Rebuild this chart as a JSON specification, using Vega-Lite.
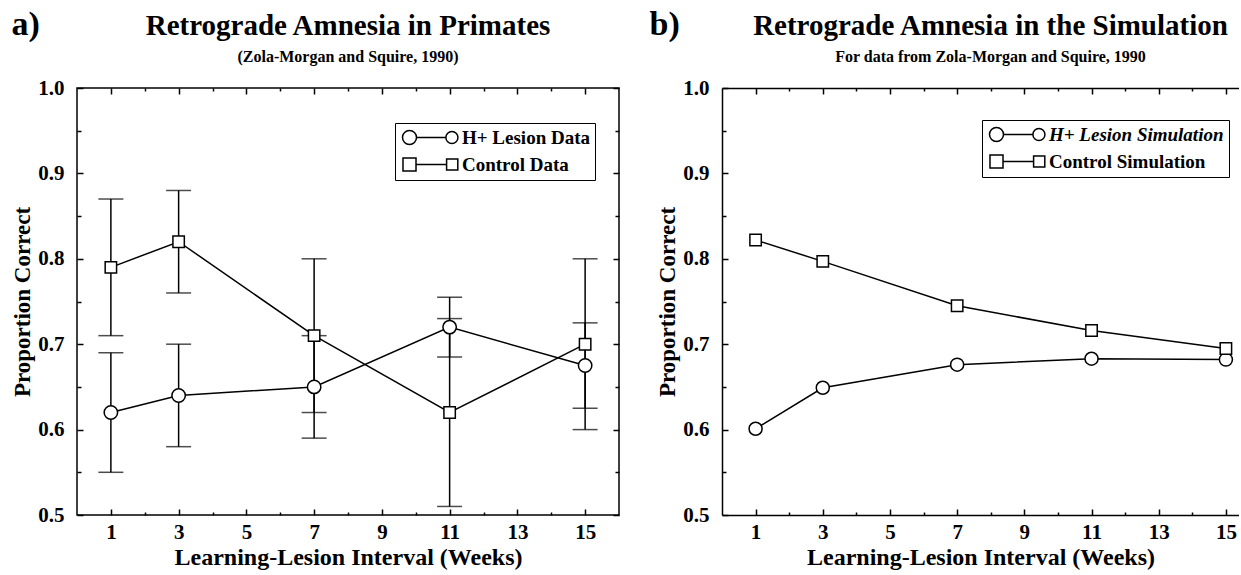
{
  "$schema": "https://vega.github.io/schema/vega-lite/v6.json",
  "background": "white",
  "padding": {"left": 10, "top": 6, "right": 0, "bottom": 0},
  "config": {
    "view": {"stroke": "black", "strokeWidth": 1.5},
    "font": "Liberation Serif",
    "title": {"font": "Liberation Serif", "fontSize": 29, "fontWeight": "bold", "color": "black", "subtitleFont": "Liberation Serif", "subtitleFontSize": 16, "subtitleFontWeight": "bold", "subtitleColor": "black", "subtitlePadding": 8, "offset": -58, "frame": "group", "anchor": "middle"},
    "axis": {"domain": false, "grid": false, "tickColor": "black", "tickWidth": 1.5, "labelFont": "Liberation Serif", "labelFontWeight": "bold", "labelFontSize": 21, "labelColor": "black", "titleFont": "Liberation Serif", "titleFontWeight": "bold", "titleFontSize": 24, "titleColor": "black"},
    "legend": {"orient": "none", "title": null, "symbolSize": 196, "symbolStrokeWidth": 1.5, "symbolStrokeColor": "black", "symbolOpacity": 1, "labelFont": "Liberation Serif", "labelFontSize": 19, "labelFontWeight": "bold", "labelColor": "black", "labelOffset": 43, "labelLimit": 0, "strokeColor": "black", "padding": 5, "rowPadding": 6},
    "concat": {"spacing": 28}
  },
  "resolve": {"scale": {"shape": "independent"}, "legend": {"shape": "independent"}},
  "datasets": {
    "a": [
      {"week": 1, "group": "H+ Lesion Data", "p": 0.62, "lo": 0.55, "hi": 0.69},
      {"week": 3, "group": "H+ Lesion Data", "p": 0.64, "lo": 0.58, "hi": 0.70},
      {"week": 7, "group": "H+ Lesion Data", "p": 0.65, "lo": 0.59, "hi": 0.71},
      {"week": 11, "group": "H+ Lesion Data", "p": 0.72, "lo": 0.685, "hi": 0.755},
      {"week": 15, "group": "H+ Lesion Data", "p": 0.675, "lo": 0.625, "hi": 0.725},
      {"week": 1, "group": "Control Data", "p": 0.79, "lo": 0.71, "hi": 0.87},
      {"week": 3, "group": "Control Data", "p": 0.82, "lo": 0.76, "hi": 0.88},
      {"week": 7, "group": "Control Data", "p": 0.71, "lo": 0.62, "hi": 0.80},
      {"week": 11, "group": "Control Data", "p": 0.62, "lo": 0.51, "hi": 0.73},
      {"week": 15, "group": "Control Data", "p": 0.70, "lo": 0.60, "hi": 0.80}
    ],
    "b": [
      {"week": 1, "group": "H+ Lesion Simulation", "p": 0.601},
      {"week": 3, "group": "H+ Lesion Simulation", "p": 0.649},
      {"week": 7, "group": "H+ Lesion Simulation", "p": 0.676},
      {"week": 11, "group": "H+ Lesion Simulation", "p": 0.683},
      {"week": 15, "group": "H+ Lesion Simulation", "p": 0.682},
      {"week": 1, "group": "Control Simulation", "p": 0.822},
      {"week": 3, "group": "Control Simulation", "p": 0.797},
      {"week": 7, "group": "Control Simulation", "p": 0.745},
      {"week": 11, "group": "Control Simulation", "p": 0.716},
      {"week": 15, "group": "Control Simulation", "p": 0.695}
    ]
  },
  "hconcat": [
    {
      "width": 542,
      "height": 427,
      "data": {"name": "a"},
      "title": {"text": "Retrograde Amnesia in Primates", "subtitle": "(Zola-Morgan and Squire, 1990)"},
      "resolve": {"axis": {"x": "independent", "y": "independent"}},
      "layer": [
        {
          "mark": {"type": "line", "color": "black", "strokeWidth": 1.5},
          "encoding": {
            "x": {"field": "week", "type": "quantitative", "scale": {"domain": [0, 16], "nice": false, "zero": false},
              "axis": {"orient": "bottom", "values": [1,2,3,4,5,6,7,8,9,10,11,12,13,14,15], "labelExpr": "datum.value % 2 == 1 ? datum.label : ''", "tickSize": {"condition": {"test": "datum.value % 2 == 1", "value": -6}, "value": -3}, "labelPadding": 12, "titlePadding": 3, "title": "Learning-Lesion Interval (Weeks)"}},
            "y": {"field": "p", "type": "quantitative", "scale": {"domain": [0.5, 1.0], "nice": false, "zero": false},
              "axis": {"orient": "left", "values": [0.5,0.55,0.6,0.65,0.7,0.75,0.8,0.85,0.9,0.95,1.0], "labelExpr": "abs(datum.value*10 - round(datum.value*10)) < 0.01 ? format(datum.value, '.1f') : ''", "tickSize": {"condition": {"test": "abs(datum.value*10 - round(datum.value*10)) < 0.01", "value": -6}, "value": -4}, "labelPadding": 19, "titlePadding": 3, "titleFontSize": 23, "title": "Proportion Correct"}},
            "detail": {"field": "group"}
          }
        },
        {
          "mark": {"type": "rule", "color": "black", "strokeWidth": 1.5},
          "encoding": {
            "x": {"field": "week", "type": "quantitative",
              "axis": {"orient": "top", "values": [1,2,3,4,5,6,7,8,9,10,11,12,13,14,15], "labels": false, "tickSize": {"condition": {"test": "datum.value % 2 == 1", "value": -6}, "value": -3}, "title": "a)", "titleX": -66, "titleY": -54, "titleAlign": "left", "titleAngle": 0, "titleBaseline": "alphabetic", "titleFontSize": 34}},
            "y": {"field": "lo", "type": "quantitative",
              "axis": {"orient": "right", "values": [0.5,0.55,0.6,0.65,0.7,0.75,0.8,0.85,0.9,0.95,1.0], "labels": false, "tickSize": {"condition": {"test": "abs(datum.value*10 - round(datum.value*10)) < 0.01", "value": -6}, "value": -4}, "title": null}},
            "y2": {"field": "hi"}
          }
        },
        {
          "mark": {"type": "tick", "orient": "horizontal", "color": "black", "size": 25, "thickness": 1.5},
          "encoding": {
            "x": {"field": "week", "type": "quantitative", "axis": null},
            "y": {"field": "lo", "type": "quantitative", "axis": null}
          }
        },
        {
          "mark": {"type": "tick", "orient": "horizontal", "color": "black", "size": 25, "thickness": 1.5},
          "encoding": {
            "x": {"field": "week", "type": "quantitative", "axis": null},
            "y": {"field": "hi", "type": "quantitative", "axis": null}
          }
        },
        {
          "transform": [{"filter": "datum.group === 'H+ Lesion Data'"}],
          "mark": {"type": "point", "shape": "circle", "size": 180, "filled": true, "fill": "white", "stroke": "black", "strokeWidth": 1.5, "opacity": 1},
          "encoding": {
            "x": {"field": "week", "type": "quantitative", "axis": null},
            "y": {"field": "p", "type": "quantitative", "axis": null}
          }
        },
        {
          "transform": [{"filter": "datum.group === 'Control Data'"}],
          "mark": {"type": "point", "shape": "square", "size": 130, "filled": true, "fill": "white", "stroke": "black", "strokeWidth": 1.5, "opacity": 1},
          "encoding": {
            "x": {"field": "week", "type": "quantitative", "axis": null},
            "y": {"field": "p", "type": "quantitative", "axis": null}
          }
        },
        {
          "transform": [{"filter": "false"}],
          "mark": {"type": "point", "filled": false, "color": "black", "strokeWidth": 1.5, "opacity": 1},
          "encoding": {
            "x": {"field": "week", "type": "quantitative", "axis": null},
            "y": {"field": "p", "type": "quantitative", "axis": null},
            "shape": {"field": "group", "type": "nominal",
              "scale": {"domain": ["H+ Lesion Data", "Control Data"], "range": ["M-1,0A1,1,0,1,1,1,0A1,1,0,1,1,-1,0ZM1,0L5.2,0M5.2,0A0.86,0.86,0,1,1,6.92,0A0.86,0.86,0,1,1,5.2,0Z", "M-0.93,-0.93L0.93,-0.93L0.93,0.93L-0.93,0.93ZM0.93,0L5.3,0M5.3,-0.8L6.9,-0.8L6.9,0.8L5.3,0.8Z"]},
              "legend": {"legendX": 318, "legendY": 35, "symbolStrokeColor": "black", "symbolStrokeWidth": 1.5}}
          }
        }
      ]
    },
    {
      "width": 517,
      "height": 427,
      "data": {"name": "b"},
      "view": {"stroke": null},
      "title": {"text": "Retrograde Amnesia in the Simulation", "subtitle": "For data from Zola-Morgan and Squire, 1990", "dx": 10},
      "resolve": {"axis": {"x": "independent", "y": "independent"}},
      "layer": [
        {
          "mark": {"type": "line", "color": "black", "strokeWidth": 1.5},
          "encoding": {
            "x": {"field": "week", "type": "quantitative", "scale": {"domain": [0, 15.39], "nice": false, "zero": false},
              "axis": {"orient": "bottom", "domain": true, "domainColor": "black", "domainWidth": 1.5, "values": [1,2,3,4,5,6,7,8,9,10,11,12,13,14,15], "labelExpr": "datum.value % 2 == 1 ? datum.label : ''", "tickSize": {"condition": {"test": "datum.value % 2 == 1", "value": -6}, "value": -3}, "labelPadding": 12, "titlePadding": 3, "title": "Learning-Lesion Interval (Weeks)"}},
            "y": {"field": "p", "type": "quantitative", "scale": {"domain": [0.5, 1.0], "nice": false, "zero": false},
              "axis": {"orient": "left", "domain": true, "domainColor": "black", "domainWidth": 1.5, "values": [0.5,0.55,0.6,0.65,0.7,0.75,0.8,0.85,0.9,0.95,1.0], "labelExpr": "abs(datum.value*10 - round(datum.value*10)) < 0.01 ? format(datum.value, '.1f') : ''", "tickSize": {"condition": {"test": "abs(datum.value*10 - round(datum.value*10)) < 0.01", "value": -6}, "value": -4}, "labelPadding": 19, "titlePadding": 3, "titleFontSize": 23, "title": "Proportion Correct"}},
            "detail": {"field": "group"}
          }
        },
        {
          "transform": [{"filter": "datum.group === 'H+ Lesion Simulation'"}],
          "mark": {"type": "point", "shape": "circle", "size": 170, "filled": true, "fill": "white", "stroke": "black", "strokeWidth": 1.5, "opacity": 1},
          "encoding": {
            "x": {"field": "week", "type": "quantitative",
              "axis": {"orient": "top", "domain": true, "domainColor": "black", "domainWidth": 1.5, "values": [1,2,3,4,5,6,7,8,9,10,11,12,13,14,15], "labels": false, "tickSize": {"condition": {"test": "datum.value % 2 == 1", "value": -6}, "value": -3}, "title": "b)", "titleX": -73, "titleY": -54, "titleAlign": "left", "titleAngle": 0, "titleBaseline": "alphabetic", "titleFontSize": 34}},
            "y": {"field": "p", "type": "quantitative", "axis": null}
          }
        },
        {
          "transform": [{"filter": "datum.group === 'Control Simulation'"}],
          "mark": {"type": "point", "shape": "square", "size": 130, "filled": true, "fill": "white", "stroke": "black", "strokeWidth": 1.5, "opacity": 1},
          "encoding": {
            "x": {"field": "week", "type": "quantitative", "axis": null},
            "y": {"field": "p", "type": "quantitative", "axis": null}
          }
        },
        {
          "transform": [{"filter": "false"}],
          "mark": {"type": "point", "filled": false, "color": "black", "strokeWidth": 1.5, "opacity": 1},
          "encoding": {
            "x": {"field": "week", "type": "quantitative", "axis": null},
            "y": {"field": "p", "type": "quantitative", "axis": null},
            "shape": {"field": "group", "type": "nominal",
              "scale": {"domain": ["H+ Lesion Simulation", "Control Simulation"], "range": ["M-1,0A1,1,0,1,1,1,0A1,1,0,1,1,-1,0ZM1,0L5.2,0M5.2,0A0.86,0.86,0,1,1,6.92,0A0.86,0.86,0,1,1,5.2,0Z", "M-0.93,-0.93L0.93,-0.93L0.93,0.93L-0.93,0.93ZM0.93,0L5.3,0M5.3,-0.8L6.9,-0.8L6.9,0.8L5.3,0.8Z"]},
              "legend": {"legendX": 260, "legendY": 32, "symbolStrokeColor": "black", "symbolStrokeWidth": 1.5, "labelFontStyle": {"expr": "datum.label === 'H+ Lesion Simulation' ? 'italic' : 'normal'"}}}
          }
        }
      ]
    }
  ]
}
